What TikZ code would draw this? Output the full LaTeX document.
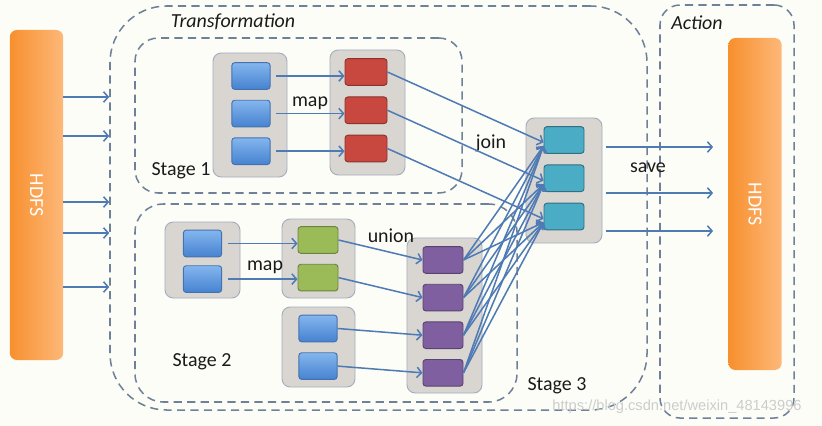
\documentclass[tikz,border=0pt]{standalone}
\usepackage{fontspec}
\setmainfont{Carlito}
\newfontfamily\markfont{Liberation Sans}
\usetikzlibrary{arrows.meta}
\usetikzlibrary{positioning}

\definecolor{paper}{HTML}{FDFDF8}
\definecolor{flowblue}{HTML}{4F7BB5}
\definecolor{dashgray}{HTML}{6E8198}
\definecolor{groupfill}{HTML}{D9D6D2}
\definecolor{groupline}{HTML}{A4ADBC}
\definecolor{hdfsdark}{HTML}{F7902E}
\definecolor{hdfslight}{HTML}{FDB879}
\definecolor{celltop}{HTML}{84B6EE}
\definecolor{cellbot}{HTML}{4682D0}
\definecolor{cellline}{HTML}{4471B0}
\definecolor{mapred}{HTML}{C8473F}
\definecolor{jointeal}{HTML}{4AACC5}
\definecolor{mapgreen}{HTML}{9BBB59}
\definecolor{unionpurple}{HTML}{7F5FA0}
\definecolor{inktext}{HTML}{1A1A1A}

\begin{document}
\begin{tikzpicture}
	[x=0.03cm, y=-0.03cm,
	font=\fontsize{17}{20}\selectfont,
	text=inktext,
	node distance=0.32cm,
	flow/.style={draw=flowblue, line width=1.3pt,
		-{Straight Barb[length=4pt,width=9pt]}},
	region/.style={draw=dashgray, line width=1.3pt,
		dash pattern=on 7pt off 4.5pt, inner sep=0pt},
	group/.style={draw=groupline, fill=groupfill, line width=0.8pt,
		rounded corners=7pt, inner sep=0pt},
	cell/.style={minimum width=1.2cm, minimum height=0.8cm,
		rounded corners=2.5pt, line width=0.8pt, inner sep=0pt},
	bluecell/.style={cell, draw=cellline, top color=celltop,
		bottom color=cellbot, minimum width=1.15cm},
	redcell/.style={cell, draw=mapred!70!black, fill=mapred, minimum width=1.26cm},
	tealcell/.style={cell, draw=jointeal!65!black, fill=jointeal},
	greencell/.style={cell, draw=mapgreen!70!black, fill=mapgreen},
	purplecell/.style={cell, draw=unionpurple!70!black, fill=unionpurple},
	hdfs/.style={left color=hdfsdark, right color=hdfslight,
		rounded corners=6pt, inner sep=0pt, minimum width=1.6cm,
		text=white}]

% Page
\fill[paper] (0,0) rectangle (822,426);
\useasboundingbox (0,0) rectangle (822,426);

% Dashed regions
\node[region, rounded corners=1.7cm, minimum width=16.11cm, minimum height=12.12cm]
	(trans) at (378.5,208) {};
\node[region, rounded corners=0.7cm, minimum width=9.81cm, minimum height=4.65cm]
	(stage1) at (298.5,115.5) {};
\node[region, rounded corners=0.85cm, minimum width=11.46cm, minimum height=5.94cm]
	(stage2) at (326,303) {};
\node[region, rounded corners=0.6cm, minimum width=4.02cm, minimum height=12.39cm]
	(action) at (727,211.5) {};

\node[font=\fontsize{17}{20}\selectfont\itshape] (translabel) at (233,22) {Transformation};
\node[font=\fontsize{17}{20}\selectfont\itshape] (actionlabel) at (697,23) {Action};
\node (stage1label) at (181,171) {Stage 1};
\node (stage2label) at (202,362) {Stage 2};
\node (stage3label) at (557,386) {Stage 3};

% HDFS bars
\node[hdfs, minimum height=9.9cm] (hdfsL) at (36.5,195) {};
\node[rotate=-90, text=white] at (hdfsL.center) {HDFS};
\node[hdfs, minimum height=9.96cm] (hdfsR) at (755,204) {};
\node[rotate=-90, text=white] at (hdfsR.center) {HDFS};

% Groups
\node[group, minimum width=2.22cm, minimum height=3.72cm] (inA) at (250,115) {};
\node[group, minimum width=2.25cm, minimum height=3.75cm] (mapA) at (367.5,112.5) {};
\node[group, minimum width=2.28cm, minimum height=3.75cm] (join) at (564,180.5) {};
\node[group, minimum width=2.25cm, minimum height=2.28cm] (inB) at (202.5,260) {};
\node[group, minimum width=2.19cm, minimum height=2.37cm] (mapB) at (318.5,258.5) {};
\node[group, minimum width=2.19cm, minimum height=2.4cm] (inC) at (318.5,347) {};
\node[group, minimum width=2.25cm, minimum height=4.65cm] (union) at (444.5,315.5) {};

% Cells
\node[bluecell] (a1) at (251,76) {};
\node[bluecell, below=0.3cm of a1] (a2) {};
\node[bluecell, below=0.3cm of a2] (a3) {};

\node[redcell] (r1) at (366,72) {};
\node[redcell, below=of r1] (r2) {};
\node[redcell, below=of r2] (r3) {};

\node[tealcell] (t1) at (564,140) {};
\node[tealcell, below=of t1] (t2) {};
\node[tealcell, below=of t2] (t3) {};

\node[bluecell] (b1) at (202.5,243.5) {};
\node[bluecell, below=0.24cm of b1] (b2) {};

\node[greencell] (g1) at (318,240) {};
\node[greencell, below=0.3cm of g1] (g2) {};

\node[bluecell] (c1) at (318,328.5) {};
\node[bluecell, below=0.3cm of c1] (c2) {};

\node[purplecell] (p1) at (443,260) {};
\node[purplecell, below=0.3cm of p1] (p2) {};
\node[purplecell, below=0.3cm of p2] (p3) {};
\node[purplecell, below=0.3cm of p3] (p4) {};

% Operation labels
\node (map1) at (310,103) {map};
\node (map2) at (265,267) {map};
\node (unionlabel) at (391,236) {union};
\node (joinlabel) at (491,143) {join};
\node (savelabel) at (648,168) {save};

% Reading from HDFS
\foreach \y in {97,136,202,233,287}
	\draw[flow] (hdfsL.east |- 0,\y) -- (trans.west |- 0,\y);

% Stage 1
\foreach \i in {1,2,3}
	\draw[flow] ([xshift=5pt]a\i.east) -- (r\i.west |- a\i.east);
\foreach \i in {1,2,3}
	\draw[flow] (r\i.east) -- ([yshift=-2pt]t\i.west);

% Stage 2
\draw[flow] ([xshift=5pt]b1.east) -- (g1.west |- b1.east);
\draw[flow] ([xshift=5pt]b2.east) -- (g2.west |- b2.east);
\draw[flow] (g1.east) -- (p1.west);
\draw[flow] (g2.east) -- (p2.west);
\draw[flow] (c1.east) -- (p3.west);
\draw[flow] (c2.east) -- (p4.west);

% Stage 3
\foreach \p in {1,...,4}
	\foreach \t in {1,2,3}
		\draw[flow] (p\p.east) -- ([yshift=-5pt]t\t.west);

% Saving to HDFS
\foreach \y in {147,193,231}
	\draw[flow, shorten >=0.45cm, shorten <=3pt] (join.east |- 0,\y) -- (hdfsR.west |- 0,\y);

% Watermark
\node[font=\markfont\fontsize{12.5}{14}\selectfont, text=gray!40] (mark) at (677,407)
	{https://blog.csdn.net/weixin\_48143996};

\end{tikzpicture}
\end{document}
